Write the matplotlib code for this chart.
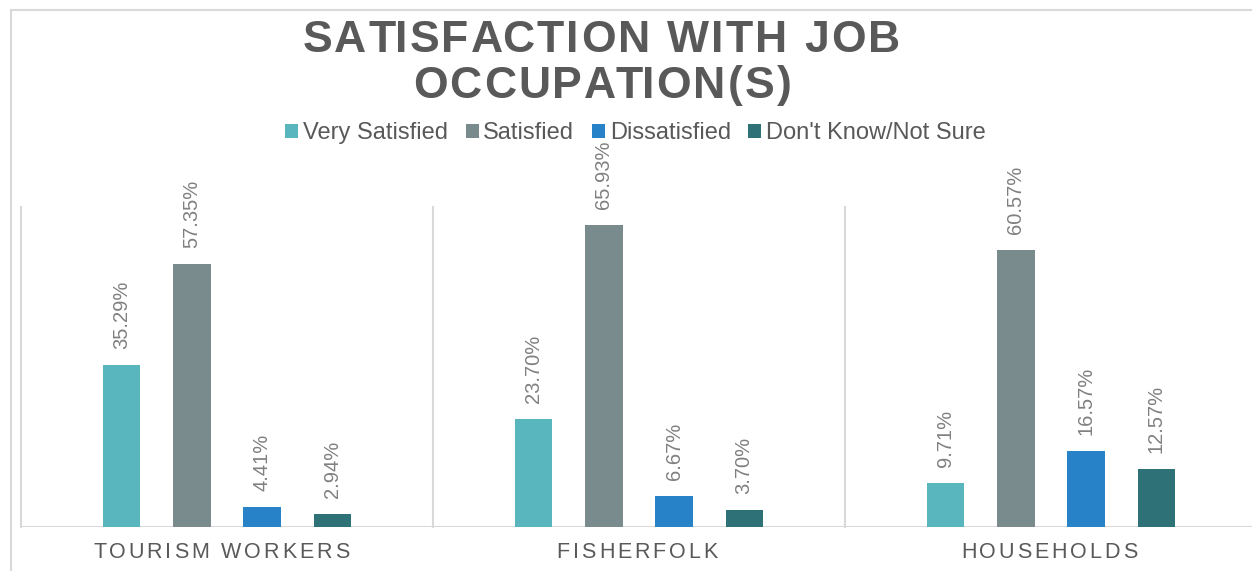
import matplotlib.pyplot as plt
from matplotlib.patches import Patch, Rectangle
from matplotlib.transforms import IdentityTransform
import numpy as np

plt.rcParams["font.family"] = ["Liberation Sans", "DejaVu Sans"]

groups = ["TOURISM WORKERS", "FISHERFOLK", "HOUSEHOLDS"]
series = ["Very Satisfied", "Satisfied", "Dissatisfied", "Don't Know/Not Sure"]
very_satisfied = [35.29, 23.70, 9.71]
satisfied = [57.35, 65.93, 60.57]
dissatisfied = [4.41, 6.67, 16.57]
not_sure = [2.94, 3.70, 12.57]
colors = ["#59b5be", "#7a8b8e", "#2882c8", "#2e7278"]

W, H = 1252, 571
fig = plt.figure(figsize=(W / 100, H / 100), dpi=100)
renderer = fig.canvas.get_renderer()


def text_width(s, **kw):
    t = fig.text(0, 0, s, transform=IdentityTransform(), **kw)
    w = t.get_window_extent(renderer).width
    t.remove()
    return w


def tracked_text(cx, cy, s, track, **kw):
    """Draw s centred at pixel (cx, cy) with extra spacing between letters."""
    bar_w = text_width("|", **kw)
    offsets = [text_width(s[:i] + "|", **kw) - bar_w for i in range(len(s))]
    total = text_width(s, **kw) + track * (len(s) - 1)
    x0 = cx - total / 2
    for i, ch in enumerate(s):
        if ch == " ":
            continue
        fig.text(x0 + offsets[i] + track * i, cy, ch, transform=IdentityTransform(),
                 ha="left", va="center", **kw)


# axes run slightly past the right edge, like the cropped chart area
ax = fig.add_axes([21 / W, 44 / H, 1236 / W, 320 / H])
ax.set_xlim(-0.5, 2.5)
ax.set_ylim(0, 69.9)

x = np.arange(len(groups))
step = 0.17
width = 0.09
all_vals = [very_satisfied, satisfied, dissatisfied, not_sure]
for i, (vals, c) in enumerate(zip(all_vals, colors)):
    pos = x + (i - 1.5) * step
    ax.bar(pos, vals, width=width, color=c, zorder=3)
    for px, v in zip(pos, vals):
        ax.annotate(f"{v:.2f}%", (px, v), xytext=(0, 16), textcoords="offset pixels",
                    rotation=90, ha="center", va="bottom", fontsize=14.5,
                    color="#808080")

# group separators and baseline
for sx in [-0.5, 0.5, 1.5, 2.5]:
    ax.plot([sx, sx], [0, 69.9], color="#d9d9d9", lw=1.5, zorder=1, clip_on=False)
for s in ax.spines.values():
    s.set_visible(False)
ax.axhline(0, color="#d9d9d9", lw=1.5, zorder=2)
ax.set_yticks([])
ax.set_xticks([])

# category labels, letter-spaced
for gx, name in zip(x, groups):
    cx = ax.transData.transform((gx, 0))[0] - 2
    if gx == 0:
        cx -= 4
    tracked_text(cx, H - 553, name, 2.9, fontsize=15.5, color="#595959")

# title, two letter-spaced lines
title_kw = dict(fontsize=32, fontweight="bold", color="#595959")
tracked_text(601, H - 40, "SATISFACTION WITH JOB", 2.2, **title_kw)
tracked_text(602, H - 86, "OCCUPATION(S)", 2.2, **title_kw)

handles = [Patch(facecolor=c, edgecolor="none") for c in colors]
fig.legend(handles, series, loc="center", bbox_to_anchor=(0.5076, 1 - 133 / H), ncol=4,
           frameon=False, fontsize=17, handlelength=0.55, handleheight=0.55,
           handletextpad=0.2, columnspacing=0.75, labelcolor="#595959")

# outer chart border
fig.add_artist(Rectangle((11 / W, -0.1), 2, 1 - 10 / H + 0.1, transform=fig.transFigure,
                         fill=False, edgecolor="#d9d9d9", lw=1.5, clip_on=False))

fig.savefig("out.png", dpi=100, facecolor="white")
